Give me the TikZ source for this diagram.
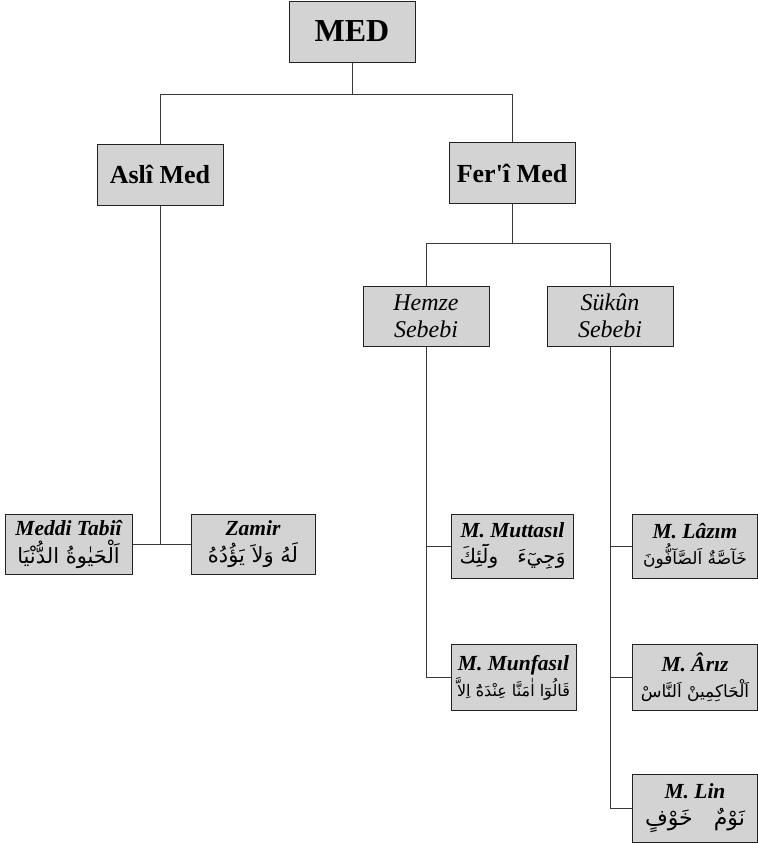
\documentclass[tikz,border=0pt]{standalone}
\usepackage{fontspec}
\setmainfont{Liberation Serif}[Ligatures=TeXOff]
\newfontfamily\arabicfont[Script=Arabic]{DejaVu Sans}
\TeXXeTstate=1
\newcommand{\arf}[1]{\fontsize{#1}{#1}\selectfont\mdseries\upshape\arabicfont}
\definecolor{boxfill}{HTML}{D3D3D3}
\definecolor{boxline}{HTML}{222222}
\definecolor{conn}{HTML}{3A3A3A}
\begin{document}
\begin{tikzpicture}[x=1pt,y=-1pt,
  box/.style={draw=boxline, fill=boxfill, line width=1pt, inner sep=0pt, align=center, minimum width=126pt},
  big/.style={box, minimum height=61pt, font=\fontsize{26}{30}\selectfont\bfseries},
  cause/.style={box, minimum height=60pt, font=\fontsize{24}{27}\selectfont\itshape},
  leaf/.style={box, font=\fontsize{21.5}{24}\selectfont\bfseries\itshape},
  conn/.style={draw=conn, line width=1pt}]
\useasboundingbox (0,0) rectangle (758,844);
% top
\node[big, font=\fontsize{32}{36}\selectfont\bfseries] (med) at (352,31.5) {MED};
\node[big] (asli) at (160,174.5) {Aslî Med};
\node[big] (feri) at (512,173) {Fer'î Med};
\node[cause] (hemze) at (426,316) {Hemze\\Sebebi};
\node[cause] (sukun) at (610,316) {Sükûn\\Sebebi};
% leaves
\node[leaf, minimum width=127pt, minimum height=60pt] (meddi) at (68.5,544) {Meddi Tabiî\\[4pt]{\arf{21}\beginR اَلْحَيٰوةُ الدُّنْيَا\endR}};
\node[leaf, minimum width=124pt, minimum height=60pt] (zamir) at (253,544) {Zamir\\[3pt]{\arf{21}\beginR لَهُ وَلاَ يَؤُدُهُ\endR}};
\node[leaf, minimum width=122pt, minimum height=64pt] (muttasil) at (512.5,546) {M. Muttasıl\\[2pt]{\arf{20}\beginR وَجِيٓءَ\ \ \ ولَٓئِكَ\endR}};
\node[leaf, minimum width=125pt, minimum height=66pt] (munfasil) at (513.5,677.5) {M. Munfasıl\\[2pt]{\arf{16}\beginR قَالُوٓا اٰمَنَّا عِنْدَهُٓ اِلاَّ\endR}};
\node[leaf, minimum width=125pt, minimum height=64pt] (lazim) at (695,546) {M. Lâzım\\[2pt]{\arf{17}\beginR خَآصَّةٌ اَلصَّآفُّونَ\endR}};
\node[leaf, minimum width=125pt, minimum height=66pt] (ariz) at (695,677.5) {M. Ârız\\[2pt]{\arf{17}\beginR اَلْحَاكِمِينْ اَلنَّاسْ\endR}};
\node[leaf, minimum width=125pt, minimum height=68pt] (lin) at (695,808) {M. Lin\\[3pt]{\arf{22}\beginR نَوْمٌ\ \ \ خَوْفٍ\endR}};
% junction coordinates
\coordinate (j0) at (352,94);
\coordinate (j1) at (512,243);
% connectors
\draw[conn] (med.south) -- (j0);
\draw[conn] (asli.north) -- (asli.north |- j0) -- (feri.north |- j0) -- (feri.north);
\draw[conn] (feri.south) -- (j1);
\draw[conn] (hemze.north) -- (hemze.north |- j1) -- (sukun.north |- j1) -- (sukun.north);
\draw[conn] (meddi.east) -- (zamir.west);
\draw[conn] (asli.south) -- (asli.south |- meddi.east);
\draw[conn] (hemze.south) |- (muttasil.west);
\draw[conn] (hemze.south) |- (munfasil.west);
\draw[conn] (sukun.south) |- (lazim.west);
\draw[conn] (sukun.south) |- (ariz.west);
\draw[conn] (sukun.south) |- (lin.west);
\end{tikzpicture}
\end{document}
